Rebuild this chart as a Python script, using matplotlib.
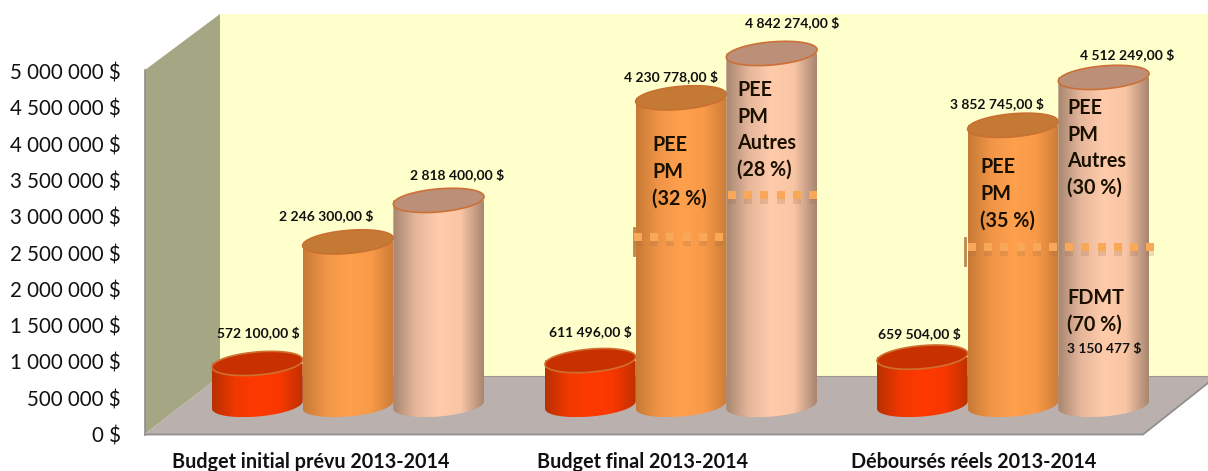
import numpy as np
import matplotlib
matplotlib.use("Agg")
import matplotlib.pyplot as plt
from matplotlib.patches import Polygon, PathPatch
from matplotlib.path import Path
from matplotlib.colors import LinearSegmentedColormap

plt.rcParams['font.family'] = ['Lato', 'DejaVu Sans']

# data
categories = ['Budget initial prévu 2013-2014', 'Budget final 2013-2014', 'Déboursés réels 2013-2014']
rouge = [572100, 611496, 659504]
orange = [2246300, 4230778, 3852745]
peche = [2818400, 4842274, 4512249]
rouge_labels = ['572 100,00 $', '611 496,00 $', '659 504,00 $']
orange_labels = ['2 246 300,00 $', '4 230 778,00 $', '3 852 745,00 $']
peche_labels = ['2 818 400,00 $', '4 842 274,00 $', '4 512 249,00 $']
y_ticks = [0, 500000, 1000000, 1500000, 2000000, 2500000, 3000000, 3500000, 4000000, 4500000, 5000000]
y_tick_labels = ['0 $', '500 000 $', '1 000 000 $', '1 500 000 $', '2 000 000 $', '2 500 000 $',
                 '3 000 000 $', '3 500 000 $', '4 000 000 $', '4 500 000 $', '5 000 000 $']

W, H = 1208, 471
ZERO_Y = 435         # pixel row of 0 $
PX = 1e6 / 72.6      # dollars per pixel
DEPTH = 30 * PX      # bars stand on the floor, behind the front edge
TILT = 5


def row(y):
    return (ZERO_Y - y) * PX


fig = plt.figure(figsize=(W / 100, H / 100), dpi=100)
ax = fig.add_axes([0, 0, 1, 1])
ax.set_xlim(0, W)
ax.set_ylim(row(H), row(0))
ax.axis('off')

# walls and floor
ax.add_patch(Polygon([(220, row(14)), (W, row(14)), (W, row(376)), (220, row(376))], fc='#FFFFCC', ec='none', zorder=1))
ax.add_patch(Polygon([(145, row(70)), (220, row(14)), (220, row(376)), (145, row(434))], fc='#A5A684', ec='none', zorder=1))
ax.add_patch(Polygon([(145, row(434)), (220, row(376)), (W, row(376)), (W, row(383)), (1143, row(434))], fc='#BAB0AD', ec='none', zorder=1))
ax.plot([145, 1143, W], [row(434.5), row(434.5), row(383)], color='#8F8F8F', lw=1.3, zorder=2)
ax.plot([145, 145], [row(70), row(435)], color='#8F8F8F', lw=1.2, zorder=2)
ax.plot([220, W], [row(376), row(376)], color='#9A9A90', lw=0.8, zorder=2)

shades = {
    'rouge': (['#B83000', '#F03800', '#FF3A00', '#F83800', '#C03000'], '#C83000', '#D07030'),
    'orange': (['#C87A35', '#F09548', '#FFA04D', '#F89A48', '#CC7C38'], '#C47A35', '#C87030'),
    'peche': (['#A88670', '#E6B79B', '#FFCBAB', '#F8C5A5', '#A88670'], '#BC9078', '#CC7038'),
}


def ellipse(xc, yc, w, h=23):
    t = np.linspace(0, 2 * np.pi, 160)
    a = np.radians(TILT)
    ex = w / 2 / np.cos(a) * np.cos(t)
    ey = h / 2 * np.sin(t)
    return xc + ex * np.cos(a) - ey * np.sin(a), yc + (ex * np.sin(a) + ey * np.cos(a)) * PX


def cylinder(x0, x1, value, kind, z):
    cols, top_col, edge = shades[kind]
    xc = (x0 + x1) / 2
    w = x1 - x0
    base = DEPTH
    top = DEPTH + value
    bx, by = ellipse(xc, base, w)
    tx, ty = ellipse(xc, top, w)
    # body outline: lower half of base, then straight up to the lid
    low = by <= base + (bx - xc) * np.tan(np.radians(TILT)) * PX
    order = np.argsort(bx[low])
    verts = list(zip(bx[low][order], by[low][order]))
    verts += [(tx.max(), top), (tx.min(), top)]
    body = PathPatch(Path(verts + [verts[0]]), fc='none', ec='none', zorder=z)
    ax.add_patch(body)
    cmap = LinearSegmentedColormap.from_list(kind, cols)
    im = ax.imshow(np.linspace(0, 1, 128)[None, :], cmap=cmap, aspect='auto',
                   extent=[tx.min(), tx.max(), by.min(), ty.max()], zorder=z)
    im.set_clip_path(body)
    ax.fill(tx, ty, fc=top_col, ec=edge, lw=1.2, zorder=z + 0.1)


def dashes(start, stop, y):
    xs = np.arange(start, stop, 16.2)
    ax.plot(xs, [row(y + 5)] * len(xs), ls='none', marker='s', ms=6, color='#A06C48', alpha=0.22, mew=0, zorder=8)
    ax.plot(xs, [row(y)] * len(xs), ls='none', marker='s', ms=5.4, color='#F8A858', mew=0, zorder=9)


def edge_band(x, y0, y1):
    ax.plot([x, x], [row(y0), row(y1)], color='#A8692F', lw=2, alpha=0.8, zorder=8)


lefts = [212, 545, 877]
rights = [484, 817, 1149]
for i in range(3):
    l = lefts[i]
    r = rights[i]
    s = (r - l) / 3
    cylinder(l, l + s, rouge[i], 'rouge', 3)
    cylinder(l + s, l + 2 * s, orange[i], 'orange', 4)
    cylinder(l + 2 * s, r, peche[i], 'peche', 5)

dashes(638, 720, 237)
edge_band(634, 228, 255)
dashes(732, 818, 195)
dashes(972, 1152, 247)
edge_band(965, 238, 265)

# axis labels
for v, lab in zip(y_ticks, y_tick_labels):
    ax.text(121, v - 1.5 * PX, lab, ha='right', va='center', fontsize=14.8, color='#111111', zorder=10)
for x, lab in zip([311, 643, 974], categories):
    ax.text(x, row(462), lab, ha='center', va='center', fontsize=14.2, fontweight='bold', color='#111111', zorder=10)

# value labels
small = dict(fontsize=10, fontweight='bold', color='#111111', ha='center', va='center', zorder=10)
for x, y, lab in zip([258, 590, 919], [333, 332, 334], rouge_labels):
    ax.text(x, row(y), lab, **small)
for x, y, lab in zip([326, 671, 997], [216, 77, 104], orange_labels):
    ax.text(x, row(y), lab, **small)
for x, y, lab in zip([457, 792, 1127], [175, 23, 55], peche_labels):
    ax.text(x, row(y), lab, **small)
ax.text(1104, row(349), '3 150 477 $', **small)

# notes on the bars
big = dict(fontsize=14.2, fontweight='bold', color='#1A1000', ha='left', va='center', zorder=10, linespacing=1.42)
ax.text(652, row(172), 'PEE\nPM\n(32 %)', **big)
ax.text(737, row(130), 'PEE\nPM\nAutres\n(28 %)', **big)
ax.text(980, row(194), 'PEE\nPM\n(35 %)', **big)
ax.text(1067, row(148), 'PEE\nPM\nAutres\n(30 %)', **big)
ax.text(1067, row(311), 'FDMT\n(70 %)', **big)

fig.savefig('out.png', dpi=100)
